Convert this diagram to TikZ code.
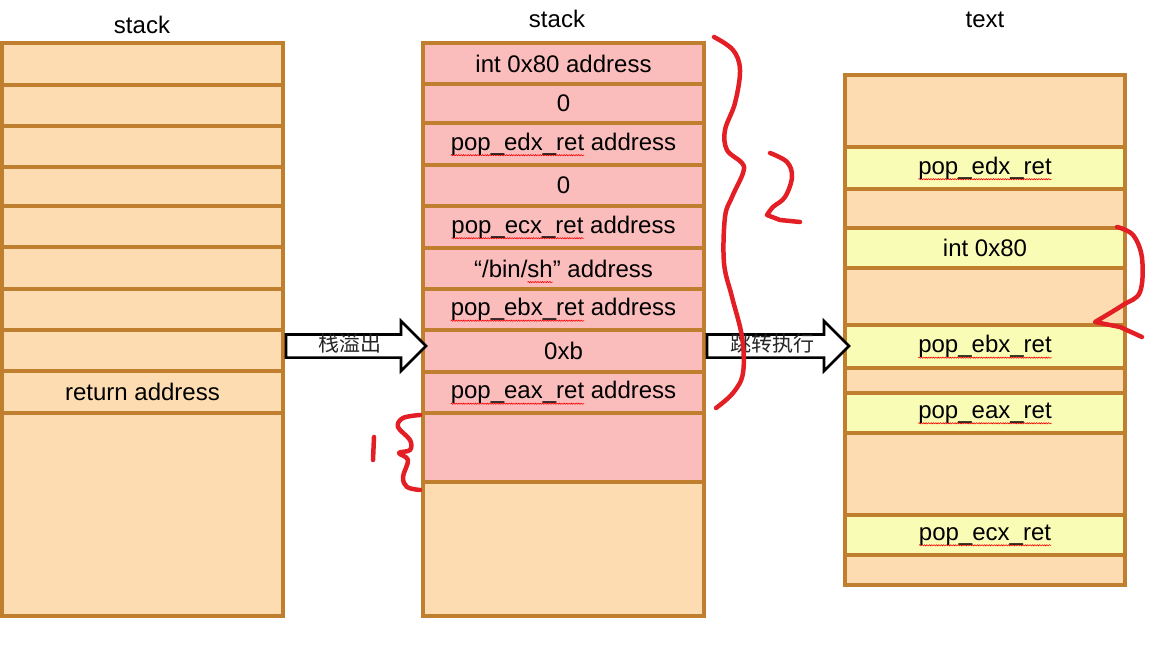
\documentclass[tikz,border=0pt]{standalone}
\usepackage{fontspec}
\setmainfont{Liberation Sans}
\newfontfamily\cjk{Noto Sans CJK SC}
\usetikzlibrary{shapes.arrows,decorations.pathmorphing}
\definecolor{cellorange}{HTML}{FCDCB0}
\definecolor{cellpink}{HTML}{FBBCBC}
\definecolor{cellyellow}{HTML}{F8FCB4}
\definecolor{cellborder}{HTML}{C07F2E}
\definecolor{pen}{HTML}{E31E24}
\newsavebox\sqbox
\newcommand\sq[1]{\sbox\sqbox{#1}\rlap{\tikz[overlay,baseline=0pt]\draw[red, line width=0.6pt, decorate, decoration={snake, amplitude=0.6pt, segment length=2.4pt}] (0pt,-5pt) -- (\wd\sqbox,-5pt);}\usebox\sqbox}
\tikzset{
  cellbox/.style={draw=cellborder, line width=3.3pt, inner sep=0pt, font=\fontsize{24}{28}\selectfont},
  title/.style={font=\fontsize{24}{28}\selectfont, anchor=base},
  blockarrow/.style={single arrow, draw=black, fill=white, line width=2.6pt,
    single arrow head extend=12pt, single arrow head indent=0pt,
    minimum width=50pt, inner xsep=2pt, inner ysep=0pt, text height=14pt, text depth=4pt,
    font=\cjk\fontsize{21}{21}\selectfont, text=black!85},
  scribble/.style={draw=pen, line width=4.5pt, line cap=round, line join=round}
}
\newcommand\cell[7]{\node[cellbox, fill=#6, minimum width={#4-#2}, minimum height={#5-#3}] (#1) at ({(#2+#4)/2},{(#3+#5)/2}) {\raisebox{-1.5pt}{#7}};}
\begin{document}
\begin{tikzpicture}[x=1pt,y=-1pt]
\useasboundingbox (0,0) rectangle (1164,648);
% titles
\node[title] (t1) at (142,33) {stack};
\node[title] (t2) at (557,27) {stack};
\node[title] (t3) at (985,27) {text};
% left stack
\cell{L1}{2}{43}{283}{85}{cellorange}{}
\cell{L2}{2}{85}{283}{126}{cellorange}{}
\cell{L3}{2}{126}{283}{167}{cellorange}{}
\cell{L4}{2}{167}{283}{206}{cellorange}{}
\cell{L5}{2}{206}{283}{247}{cellorange}{}
\cell{L6}{2}{247}{283}{289}{cellorange}{}
\cell{L7}{2}{289}{283}{330}{cellorange}{}
\cell{L8}{2}{330}{283}{371}{cellorange}{}
\cell{L9}{2}{371}{283}{413}{cellorange}{return address}
\cell{L10}{2}{413}{283}{616}{cellorange}{}
% middle stack
\cell{M1}{423}{43}{704}{84}{cellpink}{int 0x80 address}
\cell{M2}{423}{84}{704}{123}{cellpink}{0}
\cell{M3}{423}{123}{704}{165}{cellpink}{\sq{pop\_edx\_ret} address}
\cell{M4}{423}{165}{704}{206}{cellpink}{0}
\cell{M5}{423}{206}{704}{248}{cellpink}{\sq{pop\_ecx\_ret} address}
\cell{M6}{423}{248}{704}{289}{cellpink}{“/bin/\sq{sh}” address}
\cell{M7}{423}{289}{704}{330}{cellpink}{\sq{pop\_ebx\_ret} address}
\cell{M8}{423}{330}{704}{372}{cellpink}{0xb}
\cell{M9}{423}{372}{704}{413}{cellpink}{\sq{pop\_eax\_ret} address}
\cell{M10}{423}{413}{704}{482}{cellpink}{}
\cell{M11}{423}{482}{704}{616}{cellorange}{}
% text segment
\cell{T1}{845}{75}{1125}{147}{cellorange}{}
\cell{T2}{845}{147}{1125}{189}{cellyellow}{\sq{pop\_edx\_ret}}
\cell{T3}{845}{189}{1125}{228}{cellorange}{}
\cell{T4}{845}{228}{1125}{268}{cellyellow}{int 0x80}
\cell{T5}{845}{268}{1125}{325}{cellorange}{}
\cell{T6}{845}{325}{1125}{368}{cellyellow}{\sq{pop\_ebx\_ret}}
\cell{T7}{845}{368}{1125}{393}{cellorange}{}
\cell{T8}{845}{393}{1125}{433}{cellyellow}{\sq{pop\_eax\_ret}}
\cell{T9}{845}{433}{1125}{515}{cellorange}{}
\cell{T10}{845}{515}{1125}{555}{cellyellow}{\sq{pop\_ecx\_ret}}
\cell{T11}{845}{555}{1125}{585}{cellorange}{}
% block arrows
\node[blockarrow, anchor=tail, minimum height=140pt] (A1) at ([yshift=4.5pt]L8.east) {栈溢出};
\node[blockarrow, anchor=tail, minimum height=142pt] (A2) at ([yshift=5pt]M8.east) {跳转执行};
% red hand-drawn annotations
\draw[scribble] plot[smooth, tension=0.6] coordinates {(714,37) (733,50) (740,70) (735,103) (725,130) (727,150) (742,163) (743,173) (732,197) (725,217) (724,263) (732,297) (742,337) (743,373) (733,393) (716,408)};
\draw[scribble] plot[smooth, tension=0.6] coordinates {(770,153) (787,162) (792,177) (785,197) (773,207) (767,215)} -- (780,220) -- (800,222);
\draw[scribble] plot[smooth, tension=0.6] coordinates {(420,415) (403,418) (398,427) (410,440) (410,450) (399,453) (408,460) (403,477) (407,487) (420,490)};
\draw[scribble] (374,437) -- (373,460);
\draw[scribble] plot[smooth, tension=0.6] coordinates {(1117,227) (1133,235) (1142,258) (1140,292) (1123,305) (1095,322)} -- (1120,327) -- (1142,337);
\end{tikzpicture}
\end{document}
